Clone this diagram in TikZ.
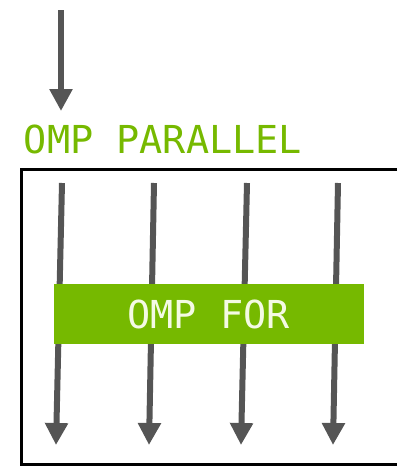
\documentclass[tikz,border=0pt]{standalone}
\usepackage{fontspec}
\newfontfamily\monofont{DejaVu Sans Mono}
\usetikzlibrary{arrows.meta}
\definecolor{nvgreen}{HTML}{76B900}
\definecolor{flowgray}{HTML}{555555}
\definecolor{labelcream}{HTML}{F4FAE4}
\begin{document}
\begin{tikzpicture}[x=1pt,y=-1pt,
  flow/.style={draw=flowgray,line width=6pt,-{Triangle[length=22pt,width=22pt]}},
  frame/.style={draw=black,line width=3pt},
  label/.style={font=\monofont\fontsize{38.5}{40}\selectfont,inner sep=0pt},
  forbox/.style={fill=nvgreen,minimum width=310pt,minimum height=60pt,inner sep=0pt,
    label,text=labelcream}]
\useasboundingbox (0,0) rectangle (397,466);
% incoming thread
\coordinate (in0) at (61,10);
\coordinate (in1) at (61,111);
\draw[flow] (in0) -- (in1);
% region title
\node[label,text=nvgreen,anchor=base] (par) at (163,153) {OMP PARALLEL};
% region frame, open on the right
\draw[frame] (397,169) -- (21,169) -- (21,464) -- (397,464);
% worker threads
\foreach \i/\xt/\xb in {1/62/56, 2/154/149, 3/247/241, 4/338/333}{
  \coordinate (t\i) at (\xt,183);
  \coordinate (b\i) at (\xb,445);
  \draw[flow] (t\i) -- (b\i);
}
% work-sharing construct
\node[forbox] (for) at (208.5,314) {OMP FOR};
\end{tikzpicture}
\end{document}
